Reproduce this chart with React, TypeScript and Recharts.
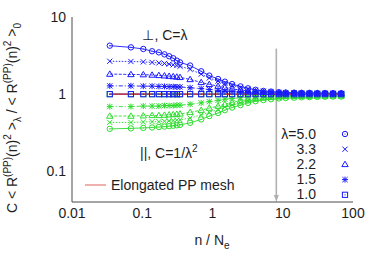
import React from 'react';
import { ComposedChart, Line, XAxis, YAxis, ReferenceLine } from 'recharts';

// n / N_e sample positions
const nOverNe = [0.0345, 0.069, 0.1035, 0.138, 0.1725, 0.207, 0.2415, 0.276, 0.3105, 0.345, 0.48, 0.69, 0.9, 1.2, 1.5, 1.9, 2.5, 3.2, 4.1, 5.3, 6.8, 8.8, 11, 14.5, 18.5, 24, 31, 40, 52, 68];

// perpendicular, C = lambda (blue)
const perp50 = [4.25, 4.04, 3.85, 3.6, 3.48, 3.28, 3.1, 2.92, 2.72, 2.58, 2.35, 1.98, 1.74, 1.57, 1.45, 1.35, 1.26, 1.19, 1.14, 1.1, 1.08, 1.06, 1.05, 1.045, 1.04, 1.04, 1.035, 1.035, 1.03, 1.03];
const perp33 = [2.67, 2.65, 2.62, 2.58, 2.54, 2.5, 2.45, 2.4, 2.35, 2.3, 2.1, 1.82, 1.62, 1.48, 1.38, 1.3, 1.22, 1.16, 1.12, 1.09, 1.07, 1.055, 1.045, 1.04, 1.035, 1.035, 1.03, 1.03, 1.03, 1.025];
const perp22 = [1.82, 1.8, 1.79, 1.77, 1.75, 1.73, 1.71, 1.69, 1.67, 1.65, 1.55, 1.42, 1.34, 1.27, 1.22, 1.17, 1.13, 1.1, 1.08, 1.06, 1.05, 1.04, 1.035, 1.03, 1.03, 1.025, 1.025, 1.02, 1.02, 1.02];
const perp15 = [1.28, 1.28, 1.27, 1.27, 1.26, 1.26, 1.25, 1.25, 1.24, 1.24, 1.21, 1.18, 1.15, 1.12, 1.1, 1.08, 1.06, 1.05, 1.04, 1.03, 1.03, 1.02, 1.02, 1.02, 1.015, 1.015, 1.015, 1.01, 1.01, 1.01];
const perp10 = [1, 1, 1, 1, 1, 1, 1, 1, 1, 1, 1, 1, 1, 1, 1, 1, 1, 1, 1, 1, 1, 1, 1, 1, 1, 1, 1, 1, 1, 1];

// parallel, C = 1/lambda^2 (green)
const para50 = [0.355, 0.36, 0.365, 0.37, 0.375, 0.38, 0.385, 0.39, 0.395, 0.4, 0.425, 0.47, 0.52, 0.57, 0.62, 0.67, 0.72, 0.77, 0.81, 0.84, 0.86, 0.88, 0.89, 0.9, 0.91, 0.915, 0.92, 0.925, 0.93, 0.93];
const para33 = [0.43, 0.43, 0.435, 0.44, 0.44, 0.445, 0.45, 0.455, 0.46, 0.465, 0.49, 0.54, 0.58, 0.63, 0.68, 0.72, 0.77, 0.81, 0.84, 0.87, 0.89, 0.9, 0.91, 0.92, 0.925, 0.93, 0.93, 0.935, 0.935, 0.94];
const para22 = [0.52, 0.52, 0.525, 0.53, 0.53, 0.535, 0.54, 0.545, 0.55, 0.555, 0.58, 0.62, 0.66, 0.7, 0.74, 0.78, 0.82, 0.85, 0.88, 0.9, 0.91, 0.92, 0.93, 0.935, 0.94, 0.94, 0.945, 0.945, 0.95, 0.95];
const para15 = [0.69, 0.69, 0.7, 0.7, 0.7, 0.71, 0.71, 0.71, 0.72, 0.72, 0.74, 0.77, 0.8, 0.83, 0.86, 0.88, 0.9, 0.92, 0.93, 0.94, 0.95, 0.955, 0.96, 0.96, 0.965, 0.965, 0.97, 0.97, 0.97, 0.97];
const para10 = [1, 1, 1, 1, 1, 1, 1, 1, 1, 1, 1, 1, 1, 1, 1, 1, 1, 1, 1, 1, 1, 1, 1, 1, 1, 1, 1, 1, 1, 1];

// elongated PP mesh reference
const meshX = [0.0345, 68];
const meshY = [1, 1];

// entanglement marker arrow
const arrowX = 8.1;
const arrowTop = 3.9;

const lambdaLabels = ['λ=5.0', '3.3', '2.2', '1.5', '1.0'];

const xMajor = [0.01, 0.1, 1, 10, 100];
const xMinor = [0.02, 0.03, 0.04, 0.05, 0.06, 0.07, 0.08, 0.09, 0.2, 0.3, 0.4, 0.5, 0.6, 0.7, 0.8, 0.9, 2, 3, 4, 5, 6, 7, 8, 9, 20, 30, 40, 50, 60, 70, 80, 90];
const yMajor = [0.1, 1, 10];
const yMinor = [0.04, 0.05, 0.06, 0.07, 0.08, 0.09, 0.2, 0.3, 0.4, 0.5, 0.6, 0.7, 0.8, 0.9, 2, 3, 4, 5, 6, 7, 8, 9];
const xDomain = [0.01, 100];
const yDomain = [0.04, 10];

const data = nOverNe.map((x, i) => ({
  x,
  perp50: perp50[i], perp33: perp33[i], perp22: perp22[i], perp15: perp15[i], perp10: perp10[i],
  para50: para50[i], para33: para33[i], para22: para22[i], para15: para15[i], para10: para10[i],
}));
const meshData = meshX.map((x, i) => ({ x, mesh: meshY[i] }));

const BLUE = '#1a1aff';
const GREEN = '#2edc2e';
const RED = '#e02828';
const FRAME = '#4a4a4a';
const INK = '#1e1e1e';
const FONT = '"Liberation Sans", Arial, Helvetica, sans-serif';

type Shape = 'circle' | 'x' | 'tri' | 'star' | 'square';

function drawMarker(shape: Shape, color: string, cx: number, cy: number, key: string) {
  const s = { stroke: color, strokeWidth: 1, fill: 'none' };
  if (shape === 'circle') {
    return (
      <g key={key}>
        <circle cx={cx} cy={cy} r={2.7} {...s} />
        <circle cx={cx} cy={cy} r={0.6} fill={color} />
      </g>
    );
  }
  if (shape === 'x') {
    const d = 2.6;
    return (
      <g key={key}>
        <line x1={cx - d} y1={cy - d} x2={cx + d} y2={cy + d} {...s} />
        <line x1={cx - d} y1={cy + d} x2={cx + d} y2={cy - d} {...s} />
      </g>
    );
  }
  if (shape === 'tri') {
    return <path key={key} d={`M${cx},${cy - 3.2}L${cx + 3.2},${cy + 2.2}L${cx - 3.2},${cy + 2.2}Z`} {...s} />;
  }
  if (shape === 'star') {
    const d = 2.6;
    return (
      <g key={key}>
        <line x1={cx - d} y1={cy - d} x2={cx + d} y2={cy + d} {...s} />
        <line x1={cx - d} y1={cy + d} x2={cx + d} y2={cy - d} {...s} />
        <line x1={cx - d - 0.4} y1={cy} x2={cx + d + 0.4} y2={cy} {...s} />
        <line x1={cx} y1={cy - d - 0.4} x2={cx} y2={cy + d + 0.4} {...s} />
      </g>
    );
  }
  return (
    <g key={key}>
      <rect x={cx - 2.6} y={cy - 2.6} width={5.2} height={5.2} {...s} />
      <circle cx={cx} cy={cy} r={0.6} fill={color} />
    </g>
  );
}

const dotFn = (shape: Shape, color: string, name: string) => (props: any) => {
  const { cx, cy, index } = props;
  const key = `${name}-${index}`;
  if (cx == null || cy == null || isNaN(cx) || isNaN(cy)) return <g key={key} />;
  return drawMarker(shape, color, cx, cy, key);
};

const series: { key: string; shape: Shape; color: string; dash?: string }[] = [
  { key: 'para10', shape: 'square', color: GREEN },
  { key: 'para15', shape: 'star', color: GREEN, dash: '4 2 1 2' },
  { key: 'para22', shape: 'tri', color: GREEN, dash: '3 1.5' },
  { key: 'para33', shape: 'x', color: GREEN, dash: '1.5 1.5' },
  { key: 'para50', shape: 'circle', color: GREEN },
  { key: 'perp10', shape: 'square', color: BLUE },
  { key: 'perp15', shape: 'star', color: BLUE, dash: '4 2 1 2' },
  { key: 'perp22', shape: 'tri', color: BLUE, dash: '3 1.5' },
  { key: 'perp33', shape: 'x', color: BLUE, dash: '1.5 1.5' },
  { key: 'perp50', shape: 'circle', color: BLUE },
];

const ArrowShape = (props: any) => {
  const { x1, y1, x2, y2 } = props;
  if ([x1, y1, x2, y2].some((v) => v == null || isNaN(v))) return <g />;
  const top = Math.min(y1, y2);
  const bot = Math.max(y1, y2);
  return (
    <g>
      <line x1={x1} y1={top} x2={x1} y2={bot - 5} stroke="#b0b0b0" strokeWidth={1.6} />
      <path d={`M${x1 - 2.5},${bot - 7}L${x1 + 2.5},${bot - 7}L${x1},${bot}Z`} fill="#b0b0b0" />
    </g>
  );
};

export default function App() {
  const tickStyle = { fontSize: 14, fill: INK, fontFamily: FONT };
  const txt = { fontSize: 14, fontFamily: FONT, fill: INK, style: { fill: INK } };
  return (
    <div style={{ position: 'absolute', left: 0, top: 0, width: 380, height: 266, background: '#fff' }}>
      <ComposedChart width={380} height={266} data={data} margin={{ top: 17, right: 27, left: 0, bottom: 0 }}>
        {/* main labelled axes */}
        <XAxis dataKey="x" type="number" scale="log" domain={xDomain} allowDataOverflow ticks={xMajor} interval={0}
          tickFormatter={(v: number) => String(v)} tick={tickStyle} tickLine={false} tickSize={0} tickMargin={6}
          axisLine={{ stroke: FRAME }} height={64} />
        <YAxis type="number" scale="log" domain={yDomain} allowDataOverflow ticks={yMajor} interval={0}
          tickFormatter={(v: number) => String(v)} tick={tickStyle} tickLine={false} tickSize={0} tickMargin={6}
          axisLine={{ stroke: FRAME }} width={72} />
        {/* inward tick axes */}
        <XAxis xAxisId="bMaj" orientation="bottom" mirror type="number" scale="log" domain={xDomain} allowDataOverflow ticks={xMajor} interval={0} tick={false} tickSize={6} tickLine={{ stroke: FRAME }} axisLine={false} height={0} />
        <XAxis xAxisId="bMin" orientation="bottom" mirror type="number" scale="log" domain={xDomain} allowDataOverflow ticks={xMinor} interval={0} tick={false} tickSize={3} tickLine={{ stroke: FRAME }} axisLine={false} height={0} />
        <XAxis xAxisId="tMaj" orientation="top" mirror type="number" scale="log" domain={xDomain} allowDataOverflow ticks={xMajor} interval={0} tick={false} tickSize={6} tickLine={{ stroke: FRAME }} axisLine={{ stroke: FRAME }} height={0} />
        <XAxis xAxisId="tMin" orientation="top" mirror type="number" scale="log" domain={xDomain} allowDataOverflow ticks={xMinor} interval={0} tick={false} tickSize={3} tickLine={{ stroke: FRAME }} axisLine={false} height={0} />
        <YAxis yAxisId="lMaj" orientation="left" mirror type="number" scale="log" domain={yDomain} allowDataOverflow ticks={yMajor} interval={0} tick={false} tickSize={6} tickLine={{ stroke: FRAME }} axisLine={false} width={0} />
        <YAxis yAxisId="lMin" orientation="left" mirror type="number" scale="log" domain={yDomain} allowDataOverflow ticks={yMinor} interval={0} tick={false} tickSize={3} tickLine={{ stroke: FRAME }} axisLine={false} width={0} />
        <YAxis yAxisId="rMaj" orientation="right" mirror type="number" scale="log" domain={yDomain} allowDataOverflow ticks={yMajor} interval={0} tick={false} tickSize={6} tickLine={{ stroke: FRAME }} axisLine={{ stroke: FRAME }} width={0} />
        <YAxis yAxisId="rMin" orientation="right" mirror type="number" scale="log" domain={yDomain} allowDataOverflow ticks={yMinor} interval={0} tick={false} tickSize={3} tickLine={{ stroke: FRAME }} axisLine={false} width={0} />

        <ReferenceLine segment={[{ x: arrowX, y: arrowTop }, { x: arrowX, y: yDomain[0] }]} shape={ArrowShape} ifOverflow="visible" />

        {series.map((s) => (
          <Line key={s.key} dataKey={s.key} stroke={s.color} strokeWidth={0.9} strokeDasharray={s.dash}
            dot={dotFn(s.shape, s.color, s.key)} activeDot={false} isAnimationActive={false} />
        ))}

        <Line data={meshData} dataKey="mesh" stroke={RED} strokeWidth={1.2} dot={false} activeDot={false} isAnimationActive={false} />

        {/* annotations */}
        <text x={165} y={40} textAnchor="middle" {...txt}>⊥, C=λ</text>
        <text x={140} y={158} {...txt}>
          ||, C=1/λ<tspan dy={-6} fontSize={10}>2</tspan>
        </text>

        {/* legend: mesh */}
        <line x1={85} y1={185} x2={106} y2={185} stroke="#e06060" strokeWidth={1} />
        <text x={111} y={190} {...txt}>Elongated PP mesh</text>

        {/* legend: lambda */}
        {lambdaLabels.map((lab, i) => (
          <text key={lab} x={316} y={139 + i * 15} textAnchor="end" {...txt}>{lab}</text>
        ))}
        {(['circle', 'x', 'tri', 'star', 'square'] as Shape[]).map((sh, i) => drawMarker(sh, BLUE, 345, 134 + i * 15.2, `lg-${sh}`))}

        {/* axis titles */}
        <text x={212} y={245} textAnchor="middle" {...txt}>
          n / N<tspan dy={4} fontSize={10}>e</tspan>
        </text>
        <text transform="rotate(-90)" x={-118} y={17} textAnchor="middle" {...txt}>
          C &lt; R<tspan dy={-6} fontSize={10}>(PP)</tspan><tspan dy={6}>(n)</tspan><tspan dy={-6} fontSize={10}>2</tspan><tspan dy={6}> &gt;</tspan><tspan dy={4} fontSize={10}>λ</tspan><tspan dy={-4}> / &lt; R</tspan><tspan dy={-6} fontSize={10}>(PP)</tspan><tspan dy={6}>(n)</tspan><tspan dy={-6} fontSize={10}>2</tspan><tspan dy={6}> &gt;</tspan><tspan dy={4} fontSize={10}>0</tspan>
        </text>
      </ComposedChart>
    </div>
  );
}
